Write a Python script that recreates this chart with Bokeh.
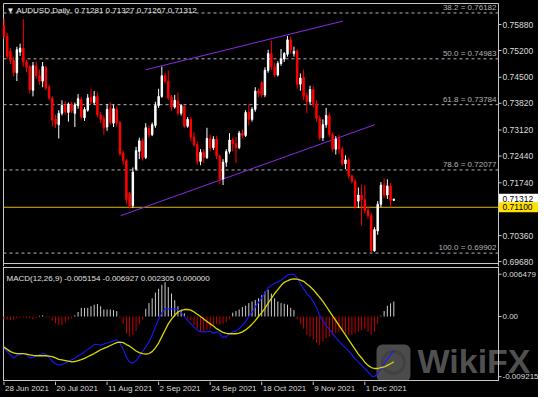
import pandas as pd
from bokeh.plotting import figure
from bokeh.models import Range1d, Label, BoxAnnotation, ColumnDataSource
from bokeh.core.properties import value
from bokeh.layouts import column
from bokeh.embed import file_html
from bokeh.resources import INLINE

# ---------------- data ----------------
symbol_title = "AUDUSD,Daily"
last_ohlc = ["0.71281", "0.71327", "0.71267", "0.71312"]
start_date = "2021-06-28"

opens = [0.7585, 0.7558, 0.7518, 0.7494, 0.7462, 0.7516, 0.7526, 0.7490, 0.7478, 0.7416,
         0.7480, 0.7454, 0.7440, 0.7476, 0.7424, 0.7396, 0.7340, 0.7326, 0.7356, 0.7376,
         0.7358, 0.7380, 0.7356, 0.7376, 0.7392, 0.7344, 0.7364, 0.7398, 0.7384, 0.7400,
         0.7352, 0.7342, 0.7320, 0.7368, 0.7330, 0.7366, 0.7332, 0.7252, 0.7232, 0.7146,
         0.7114, 0.7210, 0.7256, 0.7284, 0.7240, 0.7316, 0.7300, 0.7324, 0.7376, 0.7400,
         0.7454, 0.7440, 0.7398, 0.7372, 0.7388, 0.7356, 0.7374, 0.7322, 0.7340, 0.7294,
         0.7274, 0.7230, 0.7254, 0.7240, 0.7290, 0.7266, 0.7288, 0.7244, 0.7184, 0.7228,
         0.7256, 0.7286, 0.7276, 0.7266, 0.7304, 0.7298, 0.7358, 0.7340, 0.7366, 0.7414,
         0.7436, 0.7404, 0.7468, 0.7512, 0.7478, 0.7456, 0.7486, 0.7498, 0.7510, 0.7548,
         0.7512, 0.7518, 0.7432, 0.7450, 0.7402, 0.7386, 0.7418, 0.7380, 0.7342, 0.7292,
         0.7326, 0.7350, 0.7300, 0.7262, 0.7288, 0.7262, 0.7224, 0.7234, 0.7192, 0.7178,
         0.7126, 0.7142, 0.7130, 0.7102, 0.7088, 0.6996, 0.7048, 0.7118, 0.7168, 0.7142,
         0.7166, 0.71281]
highs = [0.7603, 0.7566, 0.7526, 0.7504, 0.7530, 0.7538, 0.7602, 0.7496, 0.7482, 0.7490,
         0.7492, 0.7470, 0.7490, 0.7480, 0.7430, 0.7400, 0.7352, 0.7364, 0.7390, 0.7388,
         0.7384, 0.7386, 0.7384, 0.7406, 0.7398, 0.7372, 0.7406, 0.7420, 0.7414, 0.7410,
         0.7360, 0.7350, 0.7380, 0.7384, 0.7378, 0.7374, 0.7336, 0.7258, 0.7236, 0.7150,
         0.7214, 0.7268, 0.7292, 0.7290, 0.7330, 0.7324, 0.7332, 0.7386, 0.7420, 0.7478,
         0.7462, 0.7468, 0.7404, 0.7404, 0.7410, 0.7380, 0.7378, 0.7346, 0.7346, 0.7306,
         0.7282, 0.7262, 0.7262, 0.7318, 0.7300, 0.7296, 0.7296, 0.7248, 0.7236, 0.7262,
         0.7304, 0.7292, 0.7294, 0.7310, 0.7314, 0.7364, 0.7380, 0.7372, 0.7424, 0.7420,
         0.7440, 0.7476, 0.7522, 0.7546, 0.7488, 0.7492, 0.7524, 0.7516, 0.7558, 0.7556,
         0.7530, 0.7524, 0.7460, 0.7470, 0.7410, 0.7428, 0.7426, 0.7390, 0.7350, 0.7340,
         0.7370, 0.7356, 0.7306, 0.7296, 0.7300, 0.7268, 0.7246, 0.7240, 0.7196, 0.7184,
         0.7162, 0.7170, 0.7168, 0.7112, 0.7096, 0.7058, 0.7126, 0.7176, 0.7186, 0.7183,
         0.7174, 0.71327]
lows = [0.7550, 0.7498, 0.7484, 0.7452, 0.7440, 0.7506, 0.7478, 0.7464, 0.7408, 0.7400,
        0.7446, 0.7430, 0.7424, 0.7416, 0.7390, 0.7322, 0.7318, 0.7290, 0.7350, 0.7352,
        0.7334, 0.7356, 0.7320, 0.7368, 0.7340, 0.7336, 0.7360, 0.7380, 0.7378, 0.7346,
        0.7330, 0.7300, 0.7310, 0.7326, 0.7320, 0.7322, 0.7244, 0.7222, 0.7118, 0.7106,
        0.7108, 0.7206, 0.7236, 0.7232, 0.7236, 0.7292, 0.7296, 0.7318, 0.7370, 0.7396,
        0.7434, 0.7390, 0.7362, 0.7368, 0.7350, 0.7350, 0.7318, 0.7318, 0.7282, 0.7268,
        0.7222, 0.7220, 0.7226, 0.7236, 0.7256, 0.7260, 0.7236, 0.7170, 0.7168, 0.7216,
        0.7250, 0.7256, 0.7226, 0.7262, 0.7290, 0.7294, 0.7324, 0.7334, 0.7360, 0.7398,
        0.7396, 0.7398, 0.7462, 0.7470, 0.7450, 0.7452, 0.7480, 0.7490, 0.7504, 0.7512,
        0.7504, 0.7420, 0.7415, 0.7390, 0.7356, 0.7380, 0.7372, 0.7334, 0.7285, 0.7284,
        0.7318, 0.7294, 0.7256, 0.7248, 0.7250, 0.7218, 0.7210, 0.7186, 0.7172, 0.7106,
        0.7108, 0.7062, 0.7094, 0.7080, 0.6991, 0.6994, 0.7038, 0.7110, 0.7134, 0.7132,
        0.7110, 0.71267]
closes = [0.7558, 0.7505, 0.7494, 0.7462, 0.7522, 0.7526, 0.7490, 0.7476, 0.7418, 0.7480,
          0.7454, 0.7440, 0.7478, 0.7422, 0.7396, 0.7338, 0.7328, 0.7356, 0.7376, 0.7360,
          0.7380, 0.7362, 0.7378, 0.7394, 0.7346, 0.7366, 0.7396, 0.7386, 0.7400, 0.7352,
          0.7340, 0.7318, 0.7366, 0.7332, 0.7368, 0.7330, 0.7250, 0.7232, 0.7130, 0.7112,
          0.7202, 0.7258, 0.7284, 0.7240, 0.7318, 0.7300, 0.7326, 0.7376, 0.7400, 0.7454,
          0.7440, 0.7396, 0.7372, 0.7390, 0.7356, 0.7376, 0.7322, 0.7340, 0.7294, 0.7274,
          0.7230, 0.7254, 0.7240, 0.7290, 0.7266, 0.7288, 0.7244, 0.7184, 0.7228, 0.7256,
          0.7286, 0.7276, 0.7266, 0.7304, 0.7298, 0.7358, 0.7340, 0.7366, 0.7414, 0.7408,
          0.7404, 0.7468, 0.7512, 0.7478, 0.7456, 0.7486, 0.7498, 0.7512, 0.7548, 0.7522,
          0.7518, 0.7432, 0.7448, 0.7400, 0.7386, 0.7418, 0.7380, 0.7342, 0.7292, 0.7326,
          0.7350, 0.7300, 0.7262, 0.7288, 0.7262, 0.7224, 0.7234, 0.7192, 0.7178, 0.7112,
          0.7142, 0.7130, 0.7102, 0.7088, 0.6996, 0.7052, 0.7118, 0.7168, 0.7142, 0.7166,
          0.7128, 0.71312]

macd_main = [-47.96e-4, -53.83e-4, -58.67e-4, -63.51e-4, -60.13e-4, -57.64e-4, -56.76e-4, -58.67e-4, -63.51e-4, -62.63e-4,
             -60.13e-4, -58.67e-4, -56.76e-4, -57.64e-4, -62.63e-4, -68.49e-4, -72.31e-4, -74.80e-4, -73.33e-4, -71.43e-4,
             -68.49e-4, -66.44e-4, -64.09e-4, -60.13e-4, -57.64e-4, -53.83e-4, -50.31e-4, -46.93e-4, -42.97e-4, -42.97e-4,
             -44.00e-4, -42.09e-4, -40.63e-4, -39.16e-4, -37.11e-4, -35.64e-4, -40.63e-4, -50.31e-4, -62.63e-4, -69.96e-4,
             -71.43e-4, -67.47e-4, -61.60e-4, -53.83e-4, -46.93e-4, -39.16e-4, -28.31e-4, -16.13e-4, -3.96e-4, 5.87e-4,
             11.73e-4, 11.73e-4, 11.73e-4, 11.73e-4, 10.71e-4, 5.87e-4, 0.0, -6.31e-4, -11.29e-4, -16.13e-4,
             -20.97e-4, -23.47e-4, -23.47e-4, -23.47e-4, -22.44e-4, -25.96e-4, -23.47e-4, -25.96e-4, -32.27e-4, -30.80e-4,
             -25.96e-4, -23.47e-4, -22.44e-4, -18.63e-4, -13.64e-4, -7.77e-4, 0.0, 6.89e-4, 14.67e-4, 21.56e-4,
             28.60e-4, 35.93e-4, 44.00e-4, 47.67e-4, 50.60e-4, 52.80e-4, 55.73e-4, 59.40e-4, 63.51e-4, 64.79e-4,
             64.53e-4, 59.69e-4, 49.87e-4, 42.53e-4, 35.20e-4, 30.36e-4, 23.03e-4, 13.20e-4, 1.91e-4, -6.31e-4,
             -13.64e-4, -19.51e-4, -25.96e-4, -32.27e-4, -38.13e-4, -42.97e-4, -47.96e-4, -52.80e-4, -58.67e-4, -64.97e-4,
             -69.96e-4, -74.80e-4, -79.64e-4, -84.63e-4, -90.93e-4, -92.15e-4, -86.97e-4, -79.64e-4, -72.31e-4, -64.97e-4,
             -58.67e-4, -51.54e-4]
macd_signal = [-46.93e-4, -50.31e-4, -53.83e-4, -55.73e-4, -56.76e-4, -56.76e-4, -56.76e-4, -57.64e-4, -58.67e-4, -59.69e-4,
               -60.13e-4, -60.13e-4, -60.13e-4, -60.13e-4, -60.57e-4, -61.60e-4, -63.51e-4, -65.56e-4, -66.44e-4, -67.47e-4,
               -68.49e-4, -69.37e-4, -68.93e-4, -67.47e-4, -66.00e-4, -64.09e-4, -61.60e-4, -59.11e-4, -56.76e-4, -53.83e-4,
               -50.89e-4, -48.84e-4, -46.93e-4, -44.44e-4, -42.09e-4, -40.04e-4, -39.16e-4, -40.04e-4, -42.97e-4, -45.47e-4,
               -49.13e-4, -52.80e-4, -55.29e-4, -56.76e-4, -57.64e-4, -56.76e-4, -53.83e-4, -47.96e-4, -40.63e-4, -30.80e-4,
               -20.97e-4, -11.29e-4, -3.96e-4, 1.91e-4, 6.89e-4, 9.24e-4, 10.71e-4, 10.71e-4, 9.83e-4, 6.89e-4,
               3.37e-4, 0.0, -3.96e-4, -7.77e-4, -11.29e-4, -14.67e-4, -18.63e-4, -21.56e-4, -24.49e-4, -25.96e-4,
               -26.40e-4, -26.40e-4, -26.40e-4, -25.37e-4, -23.47e-4, -20.53e-4, -16.57e-4, -11.73e-4, -6.31e-4, 0.0,
               5.87e-4, 12.47e-4, 20.53e-4, 27.87e-4, 35.20e-4, 41.07e-4, 47.37e-4, 52.36e-4, 54.71e-4, 56.76e-4,
               57.64e-4, 57.20e-4, 55.73e-4, 53.83e-4, 49.87e-4, 45.91e-4, 41.07e-4, 35.20e-4, 29.33e-4, 23.03e-4,
               15.69e-4, 8.36e-4, 1.03e-4, -6.31e-4, -13.64e-4, -20.97e-4, -28.31e-4, -35.64e-4, -42.97e-4, -50.31e-4,
               -57.64e-4, -63.51e-4, -69.96e-4, -74.80e-4, -78.17e-4, -79.64e-4, -79.64e-4, -78.17e-4, -77.29e-4, -74.80e-4,
               -72.31e-4, -69.27e-4]
macd_hist = [-4.40e-4, -4.40e-4, -5.87e-4, -4.40e-4, -2.93e-4, -1.47e-4, -1.47e-4, -1.91e-4, -2.49e-4, -4.40e-4,
             -1.91e-4, 1.03e-4, 1.91e-4, -1.47e-4, -1.91e-4, -5.87e-4, -10.27e-4, -13.20e-4, -13.20e-4, -8.80e-4,
             -4.40e-4, -2.93e-4, 1.91e-4, 6.89e-4, 13.20e-4, 13.20e-4, 13.20e-4, 15.69e-4, 18.04e-4, 19.07e-4,
             15.69e-4, 10.71e-4, 10.71e-4, 10.71e-4, 9.83e-4, 8.36e-4, -2.93e-4, -11.29e-4, -25.96e-4, -30.80e-4,
             -27.87e-4, -22.00e-4, -11.73e-4, -4.40e-4, 11.73e-4, 20.53e-4, 27.87e-4, 36.67e-4, 42.53e-4, 48.40e-4,
             52.36e-4, 45.03e-4, 35.20e-4, 24.93e-4, 15.69e-4, 10.27e-4, 4.84e-4, -2.93e-4, -5.87e-4, -13.20e-4,
             -18.63e-4, -23.47e-4, -23.47e-4, -20.53e-4, -18.63e-4, -13.20e-4, -11.29e-4, -12.76e-4, -11.29e-4, -8.80e-4,
             -4.40e-4, 5.87e-4, 8.36e-4, 10.71e-4, 14.67e-4, 16.57e-4, 20.53e-4, 23.03e-4, 25.37e-4, 27.87e-4,
             32.71e-4, 38.13e-4, 41.07e-4, 35.20e-4, 27.87e-4, 23.03e-4, 20.53e-4, 19.51e-4, 18.04e-4, 13.20e-4,
             9.83e-4, -3.96e-4, -11.29e-4, -18.63e-4, -28.31e-4, -30.80e-4, -35.64e-4, -40.63e-4, -44.00e-4, -38.13e-4,
             -33.29e-4, -30.80e-4, -28.31e-4, -25.96e-4, -23.47e-4, -22.44e-4, -25.96e-4, -28.31e-4, -28.31e-4, -25.96e-4,
             -23.47e-4, -20.97e-4, -18.63e-4, -23.47e-4, -28.31e-4, -23.47e-4, -11.29e-4, 1.03e-4, 8.36e-4, 16.57e-4,
             20.09e-4, 23.05e-4]
macd_title = "MACD(12,26,9) -0.005154 -0.006927 0.002305 0.000000"

fib_levels = [38.2, 50.0, 61.8, 78.6, 100.0]
fib_prices = [0.76182, 0.74983, 0.73784, 0.72077, 0.69902]
hline_price = 0.71100
price_ticks = [0.75880, 0.75200, 0.74500, 0.73820, 0.73120, 0.72440, 0.71740, 0.70360, 0.69680]
macd_ticks = [0.006479, 0.0, -0.009215]
macd_tick_labels = ["0.006479", "0.00", "-0.009215"]
date_tick_labels = ["28 Jun 2021", "20 Jul 2021", "11 Aug 2021", "2 Sep 2021",
                    "24 Sep 2021", "18 Oct 2021", "9 Nov 2021", "1 Dec 2021"]
# channel trendlines: (bar number, price) end points
channel_upper_x = [44.0, 105.2]
channel_upper_y = [0.74697, 0.75970]
channel_lower_x = [36.2, 115.1]
channel_lower_y = [0.70880, 0.73260]

# ---------------- layout constants ----------------
FONT = "Liberation Sans"
BG = "#000000"
FRAME_COL = "#c8c8c8"
TXT = "#dcdcdc"

LEFT_PAD, DATA_W, AXIS_W = 3, 495, 40
TOTAL_W = LEFT_PAD + DATA_W + AXIS_W
X_LEFT, X_RIGHT = -0.15, 153.5            # panel borders in bar units
bpp = (X_RIGHT - X_LEFT) / DATA_W          # bars per pixel
xr = Range1d(X_LEFT - LEFT_PAD * bpp, X_RIGHT + AXIS_W * bpp)
TICK_LEN = 3 * bpp

P_TOP, P_BOT, P_H = 0.7643, 0.6963, 260    # price panel borders
ppp = (P_TOP - P_BOT) / P_H
pyr = Range1d(P_BOT - 3 * ppp, P_TOP + 3 * ppp)

M_TOP, M_BOT, M_H = 0.007506, -0.009802, 113
mpp = (M_TOP - M_BOT) / M_H
myr = Range1d(M_BOT - 1 * mpp, M_TOP + 1 * mpp)

n = len(closes)
idx = list(range(n))
dates = pd.bdate_range(start_date, periods=n)
date_pos = {d.strftime("%Y-%m-%d"): i for i, d in enumerate(dates)}
tick_idx = [date_pos[pd.to_datetime(s).strftime("%Y-%m-%d")] for s in date_tick_labels]


def make_fig(h, yr):
    f = figure(frame_width=TOTAL_W, frame_height=h, x_range=xr, y_range=yr,
               x_axis_location=None, y_axis_location=None, toolbar_location=None,
               output_backend="svg", min_border_left=0, min_border_right=0,
               min_border_top=0, min_border_bottom=0)
    f.background_fill_color = BG
    f.border_fill_color = BG
    f.outline_line_color = None
    f.xgrid.visible = False
    f.ygrid.visible = False
    return f


def panel_frame(f, top, bottom, vlow, vhigh):
    f.segment(x0=[X_LEFT, X_LEFT], y0=[top, bottom], x1=[X_RIGHT, X_RIGHT], y1=[top, bottom],
              line_color=FRAME_COL, line_width=1)
    f.segment(x0=[X_LEFT, X_RIGHT], y0=[vlow, vlow], x1=[X_LEFT, X_RIGHT], y1=[vhigh, vhigh],
              line_color=FRAME_COL, line_width=1)


def axis_labels(f, ticks, labels, size):
    f.segment(x0=[X_RIGHT] * len(ticks), y0=ticks, x1=[X_RIGHT + TICK_LEN] * len(ticks), y1=ticks,
              line_color=FRAME_COL, line_width=1)
    f.text(x=[X_RIGHT] * len(ticks), y=ticks, text=labels, x_offset=4,
           text_baseline="middle", text_align="left", text_color=TXT,
           text_font=value(FONT), text_font_size=value(size))


# ---------------- price panel ----------------
p = make_fig(P_H + 6, pyr)
panel_frame(p, P_TOP, P_BOT, pyr.start, P_TOP)

p.segment(x0=[X_LEFT] * len(fib_prices), y0=fib_prices, x1=[X_RIGHT] * len(fib_prices), y1=fib_prices,
          line_color="#b4b4b4", line_dash="3 3", line_width=1)
p.text(x=[X_RIGHT] * len(fib_prices), y=fib_prices,
       text=[f"{l:.1f} = {v:.5f}" for l, v in zip(fib_levels, fib_prices)],
       x_offset=-2, y_offset=-1, text_align="right", text_baseline="bottom",
       text_color="#b4b4b4", text_font=value(FONT), text_font_size=value("8px"))

p.segment(x0=[X_LEFT], y0=[hline_price], x1=[X_RIGHT], y1=[hline_price],
          line_color="#e0b400", line_width=1)

p.line(channel_upper_x, channel_upper_y, line_color="#8a2be2", line_width=1)
p.line(channel_lower_x, channel_lower_y, line_color="#8a2be2", line_width=1)

colors = ["#ffffff" if c >= o else "#ff0000" for o, c in zip(opens, closes)]
src = ColumnDataSource(dict(
    x=idx, o=opens, h=highs, l=lows, c=closes,
    top=[max(o, c) for o, c in zip(opens, closes)],
    bottom=[min(o, c) for o, c in zip(opens, closes)],
    color=colors))
p.segment(x0="x", y0="l", x1="x", y1="h", line_color="color", line_width=1, source=src)
p.vbar(x="x", width=0.45, top="top", bottom="bottom", fill_color="color",
       line_color="color", line_width=1, source=src)

axis_labels(p, price_ticks, [f"{t:.5f}" for t in price_ticks], "8.5px")

# current price and horizontal-line price boxes on the axis
last_close = closes[-1]
p.quad(left=[X_RIGHT + 0.5 * bpp], right=[xr.end], bottom=[last_close - 5.5 * ppp],
       top=[last_close + 5.5 * ppp], fill_color="#ffffff", line_color=None)
p.text(x=[X_RIGHT], y=[last_close], text=[f"{last_close:.5f}"], x_offset=4,
       text_baseline="middle", text_color="#000000", text_font=value(FONT),
       text_font_size=value("8.5px"))
p.quad(left=[X_RIGHT + 0.5 * bpp], right=[xr.end], bottom=[hline_price - 5 * ppp],
       top=[hline_price + 5 * ppp], fill_color="#ffe000", line_color=None)
p.text(x=[X_RIGHT], y=[hline_price], text=[f"{hline_price:.5f}"], x_offset=4,
       text_baseline="middle", text_color="#000000", text_font=value(FONT),
       text_font_size=value("8.5px"))

p.add_layout(Label(x=6, x_units="screen", y=P_H + 6 - 5, y_units="screen",
                   text="\u25bc " + symbol_title + "\u00a0\u00a0" + " ".join(last_ohlc),
                   text_baseline="top", text_color="#e8e8e8", text_font=FONT,
                   text_font_size="8px"))

# ---------------- MACD panel ----------------
m = make_fig(M_H + 2, myr)

# watermark (under the indicator)
m.add_layout(BoxAnnotation(left=376, right=410, bottom=0, top=37, left_units="screen",
                           right_units="screen", bottom_units="screen", top_units="screen",
                           fill_color="#585858", fill_alpha=0.85, line_color=None,
                           border_radius=6, level="underlay"))
m.add_layout(BoxAnnotation(left=382, right=404, bottom=8, top=30, left_units="screen",
                           right_units="screen", bottom_units="screen", top_units="screen",
                           fill_color=None, line_color="#2c2c2c", line_width=3,
                           border_radius=11, level="underlay"))
m.add_layout(Label(x=417, x_units="screen", y=2, y_units="screen", text="WikiFX",
                   text_baseline="bottom", text_color="#5c5c5c", text_alpha=0.9,
                   text_font=FONT, text_font_style="bold", text_font_size="34px",
                   level="underlay"))

panel_frame(m, M_TOP, M_BOT, myr.start, myr.end)

hcolors = ["#cccccc" if v >= 0 else "#c80000" for v in macd_hist]
msrc = ColumnDataSource(dict(x=idx, hist=macd_hist, main=macd_main, signal=macd_signal,
                             hcolor=hcolors))
m.segment(x0="x", y0=0, x1="x", y1="hist", line_color="hcolor", line_width=1, source=msrc)
m.line("x", "main", line_color="#1818ff", line_width=1.1, source=msrc)
m.line("x", "signal", line_color="#d8d800", line_width=1.3, source=msrc)

axis_labels(m, macd_ticks, macd_tick_labels, "8px")

m.add_layout(Label(x=6, x_units="screen", y=M_H + 2 - 7, y_units="screen",
                   text=macd_title, text_baseline="top", text_color="#e0e0e0",
                   text_font=FONT, text_font_size="8px"))

# ---------------- date axis strip ----------------
d = make_fig(16, Range1d(0, 16))
d.segment(x0=tick_idx, y0=[16] * len(tick_idx), x1=tick_idx, y1=[12.5] * len(tick_idx),
          line_color=FRAME_COL, line_width=1)
d.text(x=tick_idx, y=[13.5] * len(tick_idx), text=date_tick_labels, x_offset=1,
       text_align="left", text_baseline="top", text_color=TXT,
       text_font=value(FONT), text_font_size=value("8px"))

layout = column(p, m, d, spacing=0)
layout.styles = {"background-color": BG}

open("out.html", "w").write(file_html(layout, INLINE))
